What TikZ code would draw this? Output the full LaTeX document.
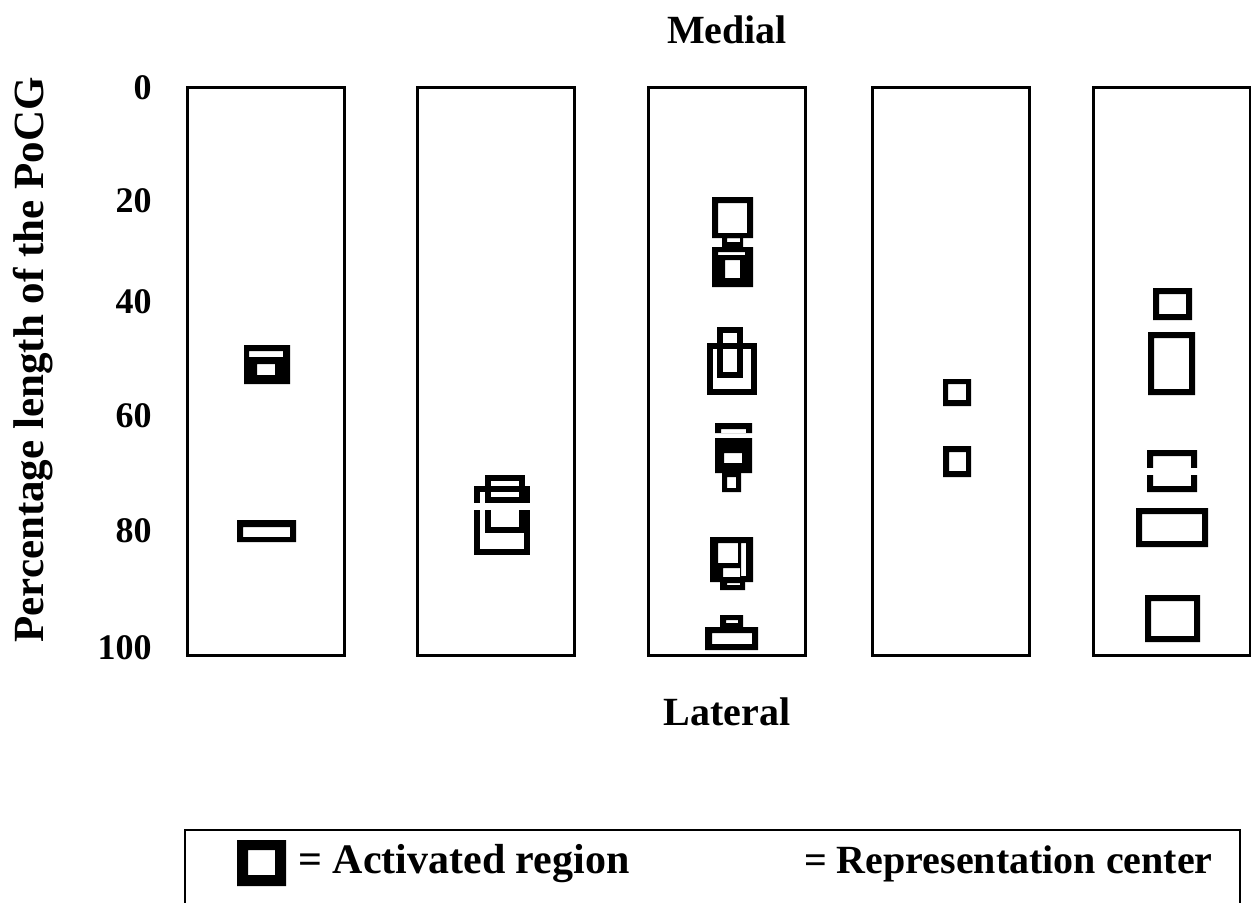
\documentclass[tikz,border=0pt]{standalone}
\usepackage{fontspec}
\setmainfont{Liberation Serif}
\begin{document}
\begin{tikzpicture}[x=0.5pt,y=-0.5pt,
  lab/.style={font=\fontsize{20}{23}\selectfont\bfseries,inner sep=0pt},
  strip/.style={draw=black,line width=1.5pt,fill=white},
  region/.style={draw=black,line width=3pt},
  hole/.style={fill=black,even odd rule}]
\useasboundingbox (0,0) rectangle (1251,902);
\fill[white] (0,0) rectangle (1251,902);
\foreach \x in {187,417,648,872,1093}
  \draw[strip] (\x,87) rectangle ++(157,568);
\foreach \v/\y in {0/88,20/201,40/302,60/416,80/531,100/648}
  \node[lab,font=\fontsize{18}{21}\selectfont\bfseries,anchor=east] (tick\v) at (152,\y) {\v};
\node[lab,font=\fontsize{21.5}{24}\selectfont\bfseries,rotate=90] (ylab) at (33,360) {Percentage length of the PoCG};
\node[lab] (medial) at (727,30) {Medial};
\node[lab] (lateral) at (727,712) {Lateral};
% first strip
\fill[hole] (244,345) rectangle (290,384) (249,351) rectangle (283,357) (257,364) rectangle (275,375);
\fill[hole] (237,520) rectangle (296,542) (243,527) rectangle (290,537);
% second strip
\draw[region] (488,478) rectangle (522,530);
\draw[region] (477,489) rectangle (527,552);
\draw[region] (486,500) -- (524,500);
\fill[white] (470,503) rectangle (535,510);
% third strip
\fill[hole] (712,197) rectangle (753,238) (718,203) rectangle (747,233);
\fill[hole] (722,233) rectangle (743,247) (727,238) rectangle (740,242);
\fill[hole] (712,247) rectangle (753,287) (718,252) rectangle (745,255) (725,260) rectangle (740,278);
\draw[region] (720,330) rectangle (740,375);
\draw[region] (710,346) rectangle (754,392);
\fill[hole] (715,423) rectangle (752,433) (721,429) rectangle (746,433);
\fill[hole] (715,438) rectangle (752,473) (724,453) rectangle (742,463);
\fill[hole] (722,471) rectangle (741,492) (727,477) rectangle (736,488);
\fill[hole] (710,537) rectangle (753,582) (718,543) rectangle (738,563) (741,543) rectangle (746,576) (723,568) rectangle (740,577);
\fill[hole] (720,580) rectangle (745,590) (727,583) rectangle (740,585);
\fill[hole] (720,615) rectangle (743,630) (726,620) rectangle (738,623);
\fill[hole] (705,627) rectangle (758,650) (712,633) rectangle (752,644);
% fourth strip
\fill[hole] (943,379) rectangle (971,406) (948,384) rectangle (966,400);
\fill[hole] (943,446) rectangle (971,477) (949,452) rectangle (966,471);
% fifth strip
\fill[hole] (1153,288) rectangle (1192,320) (1159,294) rectangle (1186,314);
\fill[hole] (1148,332) rectangle (1195,395) (1154,338) rectangle (1189,389);
\fill[hole] (1147,450) rectangle (1197,492) (1153,456) rectangle (1191,486);
\fill[white] (1140,468) rectangle (1204,475);
\fill[hole] (1136,508) rectangle (1208,547) (1142,514) rectangle (1202,541);
\fill[hole] (1145,595) rectangle (1200,642) (1151,601) rectangle (1194,636);
% legend
\draw[line width=1pt] (185,830) rectangle (1240,920);
\fill[hole] (237,840) rectangle (286,886) (248,850) rectangle (275,875);
\node[lab,font=\fontsize{21}{24}\selectfont\bfseries,anchor=base west] (actlab) at (298,873) {= Activated region};
\node[lab,anchor=base east] (replab) at (1213,873) {= Representation center};
\end{tikzpicture}
\end{document}
